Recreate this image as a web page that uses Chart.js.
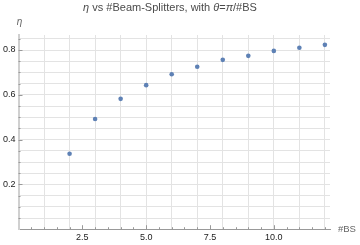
<!DOCTYPE html>
<html>
<head>
<meta charset="utf-8">
<script src="https://cdn.jsdelivr.net/npm/chart.js@4.4.1/dist/chart.umd.min.js"></script>
<style>
html, body { margin: 0; padding: 0; background: #fff; }
#wrap { width: 360px; height: 245px; position: relative; }
</style>
</head>
<body>
<div id="wrap"><canvas id="chart"></canvas></div>
<script>
// number of beam splitters vs efficiency
const nBS = [2, 3, 4, 5, 6, 7, 8, 9, 10, 11, 12];
const eta = [0.337, 0.492, 0.582, 0.643, 0.692, 0.725, 0.756, 0.774, 0.796, 0.810, 0.823];

// axes
const xTickLabels = [2.5, 5, 7.5, 10];
const yTickLabels = [0.2, 0.4, 0.6, 0.8];
const xGridLines = [1, 2, 3, 4, 5, 6, 7, 8, 9, 10, 11, 12];
const yGridLines = [0.05, 0.1, 0.15, 0.2, 0.25, 0.3, 0.35, 0.4, 0.45, 0.5, 0.55, 0.6, 0.65, 0.7, 0.75, 0.8, 0.85];
const xMax = 12.2;
const yMax = 0.867;

const FONT = '"Liberation Sans", Arial, sans-serif';
const GRID = '#e3e3e3';
const POINT = '#5e81b5';

const uniqSorted = arr => [...new Set(arr)].sort((a, b) => a - b).map(v => ({ value: v }));

// title, axis labels and the small inward tick marks
const decorations = {
    id: 'decorations',
    afterDraw(chart) {
        const { ctx, scales: { x, y } } = chart;
        ctx.save();

        // tick marks (Mathematica draws them inside the frame)
        ctx.strokeStyle = '#999';
        ctx.lineWidth = 1;
        ctx.beginPath();
        for (let i = 1; i * 0.5 <= xMax; i++) {
            const v = i * 0.5;
            const px = Math.round(x.getPixelForValue(v)) + 0.5;
            const len = xTickLabels.includes(v) ? 4 : 2;
            ctx.moveTo(px, y.bottom);
            ctx.lineTo(px, y.bottom - len);
        }
        yGridLines.forEach(v => {
            const py = Math.round(y.getPixelForValue(v)) + 0.5;
            const len = yTickLabels.includes(v) ? 4 : 2;
            ctx.moveTo(x.left, py);
            ctx.lineTo(x.left + len, py);
        });
        ctx.stroke();

        // title made of plain and italic pieces
        const parts = [
            ['η', true], [' vs #Beam-Splitters, with ', false],
            ['θ', true], ['=', false], ['π', true], ['/#BS', false]
        ];
        const fontOf = it => (it ? 'italic ' : '') + '11px ' + FONT;
        let total = 0;
        parts.forEach(([t, it]) => { ctx.font = fontOf(it); total += ctx.measureText(t).width; });
        let cx = 170 - total / 2;
        ctx.fillStyle = '#4a4a4a';
        ctx.textBaseline = 'alphabetic';
        ctx.textAlign = 'left';
        parts.forEach(([t, it]) => {
            ctx.font = fontOf(it);
            ctx.fillText(t, cx, 11);
            cx += ctx.measureText(t).width;
        });

        // axis labels
        ctx.fillStyle = '#666';
        ctx.font = 'italic 10px ' + FONT;
        ctx.textAlign = 'center';
        ctx.textBaseline = 'middle';
        ctx.fillText('η', x.left + 1, y.top - 13);
        ctx.font = '9.5px ' + FONT;
        ctx.textAlign = 'left';
        ctx.fillText('#BS', x.right + 8, y.bottom);
        ctx.restore();
    }
};

new Chart(document.getElementById('chart'), {
    type: 'scatter',
    data: {
        datasets: [{
            label: 'η',
            data: nBS.map((n, i) => ({ x: n, y: eta[i] })),
            backgroundColor: POINT,
            borderColor: POINT,
            borderWidth: 0,
            pointRadius: 2.3
        }]
    },
    options: {
        responsive: true,
        maintainAspectRatio: false,
        animation: false,
        layout: { padding: { top: 35, right: 30, left: 0, bottom: 0 } },
        plugins: {
            legend: { display: false },
            tooltip: { enabled: false }
        },
        scales: {
            x: {
                type: 'linear',
                min: 0,
                max: xMax,
                afterBuildTicks: s => { s.ticks = uniqSorted([...xGridLines, ...xTickLabels]); },
                ticks: {
                    autoSkip: false,
                    maxRotation: 0,
                    padding: 2.5,
                    color: '#222',
                    font: { family: FONT, size: 9 },
                    callback: v => xTickLabels.includes(v) ? v.toFixed(1) : ''
                },
                grid: {
                    color: c => xGridLines.includes(c.tick && c.tick.value) ? GRID : 'rgba(0,0,0,0)',
                    drawTicks: false
                },
                border: { color: '#999', width: 1 }
            },
            y: {
                type: 'linear',
                min: 0,
                max: yMax,
                afterBuildTicks: s => { s.ticks = uniqSorted([...yGridLines, ...yTickLabels]); },
                ticks: {
                    autoSkip: false,
                    padding: 3,
                    color: '#222',
                    font: { family: FONT, size: 9 },
                    callback: v => yTickLabels.includes(v) ? v.toFixed(1) : ''
                },
                grid: { color: GRID, drawTicks: false },
                border: { color: '#d0d0d0', width: 2 }
            }
        }
    },
    plugins: [decorations]
});
</script>
</body>
</html>
